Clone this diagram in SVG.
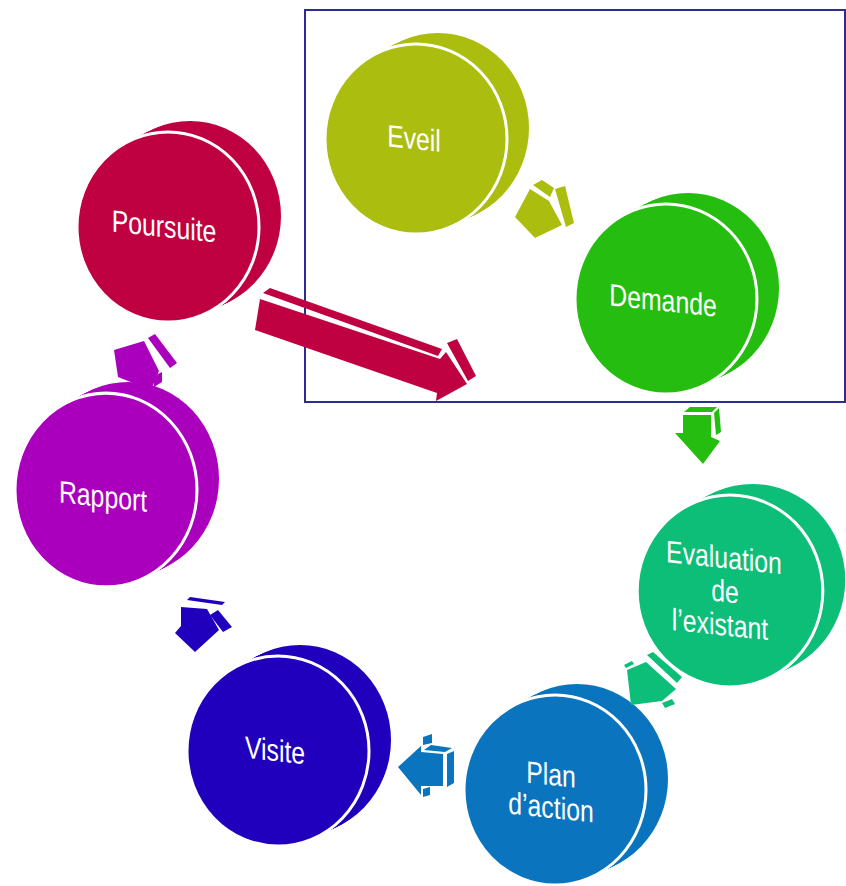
<svg xmlns="http://www.w3.org/2000/svg" xmlns:xlink="http://www.w3.org/1999/xlink" width="846" height="886" viewBox="0 0 846 886">
  <style>
    .front { stroke: #ffffff; stroke-width: 3; }
    .lbl { font-family: "Liberation Sans", Arial, sans-serif; font-size: 31px; fill: #ffffff; text-anchor: middle; }
    .frame { fill: none; stroke: #2E2C92; stroke-width: 2; }
    .arrow polygon { stroke: none; }
  </style>
  <defs>
    <!-- one disc face, extruded back along (22,-11) by stacked copies -->
    <ellipse id="face" cx="0" cy="0" rx="91" ry="95"/>
    <g id="body">
      <use xlink:href="#face" transform="translate(22,-11)"/>
      <use xlink:href="#face" transform="translate(19.25,-9.6)"/>
      <use xlink:href="#face" transform="translate(16.5,-8.25)"/>
      <use xlink:href="#face" transform="translate(13.75,-6.9)"/>
      <use xlink:href="#face" transform="translate(11,-5.5)"/>
      <use xlink:href="#face" transform="translate(8.25,-4.1)"/>
      <use xlink:href="#face" transform="translate(5.5,-2.75)"/>
      <use xlink:href="#face" transform="translate(2.75,-1.4)"/>
      <use xlink:href="#face" class="front"/>
    </g>
  </defs>

  <rect class="frame" x="305" y="10" width="540" height="392"/>

  <g id="node-eveil" fill="#ABBD0E">
    <use xlink:href="#body" transform="translate(416,139)"/>
    <text class="lbl" transform="translate(414,149) skewY(6) scale(0.8,1)">Eveil</text>
  </g>

  <g id="node-demande" fill="#25BD0F">
    <use xlink:href="#body" transform="translate(666,299)"/>
    <text class="lbl" transform="translate(663,311) skewY(6) scale(0.8,1)">Demande</text>
  </g>

  <g id="node-evaluation" fill="#0DBE78">
    <use xlink:href="#body" transform="translate(730,591) scale(1.02,1.01)"/>
    <text class="lbl" transform="translate(724,568) skewY(6) scale(0.8,1)">Evaluation</text>
    <text class="lbl" transform="translate(725,602) skewY(6) scale(0.8,1)">de</text>
    <text class="lbl" transform="translate(720,635) skewY(6) scale(0.8,1)">l’existant</text>
  </g>

  <g id="node-plan" fill="#0A75BE">
    <use xlink:href="#body" transform="translate(555,790)"/>
    <text class="lbl" transform="translate(551,785) skewY(6) scale(0.8,1)">Plan</text>
    <text class="lbl" transform="translate(551,818) skewY(6) scale(0.8,1)">d’action</text>
  </g>

  <g id="node-visite" fill="#2000BC">
    <use xlink:href="#body" transform="translate(278,751)"/>
    <text class="lbl" transform="translate(275,761) skewY(6) scale(0.8,1)">Visite</text>
  </g>

  <g id="node-rapport" fill="#AA00BE">
    <use xlink:href="#body" transform="translate(106,490) scale(1,1.02)"/>
    <text class="lbl" transform="translate(103,507) skewY(6) scale(0.8,1)">Rapport</text>
  </g>

  <g id="node-poursuite" fill="#BF0041">
    <use xlink:href="#body" transform="translate(168,227)"/>
    <text class="lbl" transform="translate(164,237) skewY(6) scale(0.8,1)">Poursuite</text>
  </g>

  <g id="connectors">
    <!-- Eveil to Demande -->
    <g class="arrow" fill="#ABBD0E">
      <polygon points="515,217 530,189 549,201 562,225 535,238"/>
      <polygon points="533,185 542,180 554,188 550,197"/>
      <polygon points="555,189 565,186 574,223 566,227"/>
    </g>
    <!-- Demande to Evaluation -->
    <g class="arrow" fill="#25BD0F">
      <polygon points="683,415 711,415 711,437 720,441 703,464 675,433 683,433"/>
      <polygon points="684,412 690,407 717,407 712,412"/>
      <polygon points="714,413 719,408 721,432 716,435"/>
    </g>
    <!-- Evaluation to Plan -->
    <g class="arrow" fill="#0DBE78">
      <polygon points="627,670 646,662 676,689 662,701 631,705"/>
      <polygon points="624,665 632,661 634,664 626,668"/>
      <polygon points="647,655 653,652 682,677 677,683"/>
      <polygon points="662,703 672,699 675,704 665,708"/>
    </g>
    <!-- Plan to Visite -->
    <g class="arrow" fill="#0A75BE">
      <polygon points="398,767 421,746 421,752 443,754 443,786 421,786 421,795"/>
      <polygon points="423,737 432,734 432,743 423,745"/>
      <polygon points="424,750 431,745 452,748 445,752"/>
      <polygon points="447,754 454,751 454,783 447,787"/>
      <polygon points="423,789 430,787 430,795 423,797"/>
    </g>
    <!-- Visite to Rapport -->
    <g class="arrow" fill="#2000BC">
      <polygon points="181,607 207,609 219,630 195,652 175,633 181,626"/>
      <polygon points="187,600 190,597 225,602 222,605"/>
      <polygon points="210,615 218,610 232,627 223,632"/>
    </g>
    <!-- Rapport to Poursuite -->
    <g class="arrow" fill="#AA00BE">
      <polygon points="114,350 144,341 159,371 151,390 118,377"/>
      <polygon points="148,338 155,334 177,363 170,368"/>
      <polygon points="154,376 162,372 162,382 154,387"/>
    </g>
    <!-- Poursuite back into the Eveil / Demande frame -->
    <g class="arrow" fill="#BF0041">
      <polygon points="260,299 440,359 446,352 467,384 436,401 437,393 255,330"/>
      <polygon points="263,293 270,288 442,349 438,356"/>
      <polygon points="447,343 457,339 476,376 468,381"/>
    </g>
  </g>
</svg>
